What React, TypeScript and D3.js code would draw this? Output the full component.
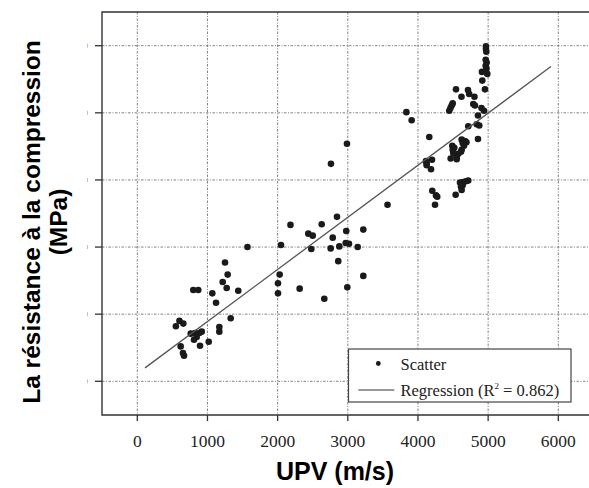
import React from "react";
import * as d3 from "d3";

// UPV (m/s) values of the scatter points
const upv: number[] = [
  550, 601, 656, 618, 651, 666, 761, 822, 846, 884, 918, 808, 894, 1018, 798, 869, 1069, 1122, 1169, 1169,
  1217, 1250, 1288, 1274, 1331, 1439, 1570,
  2048, 2029, 2005, 2005, 2183, 2314, 2437, 2500, 2480, 2628, 2665, 2760, 2756, 2785, 2846, 2864, 2879, 2978,
  2970, 3017, 2988, 2993, 3141, 3221, 3221, 3566,
  3835, 3910, 4161, 4114, 4124, 4200, 4124, 4186, 4204, 4257, 4275, 4243,
  4446, 4463, 4480, 4495, 4542, 4620, 4713, 4730, 4805, 4788, 4812, 4905, 4941, 4855, 4717, 4837, 4874, 4855,
  4623, 4670, 4637, 4691, 4489, 4518, 4495, 4656, 4623, 4613, 4575, 4552, 4503, 4466, 4552,
  4599, 4646, 4684, 4717, 4613, 4637, 4623, 4537,
  4969, 4969, 4974, 4965, 4979, 4965, 4977, 4912, 4988, 4917, 4955,
];

// Compressive strength (MPa) values of the scatter points
const strength: number[] = [
  18.2, 19.0, 18.6, 15.2, 14.2, 13.8, 17.1, 17.2, 16.6, 17.2, 17.4, 16.2, 15.3, 15.9, 23.6, 23.6, 23.1, 21.7, 18.1, 17.4,
  24.8, 27.7, 25.9, 23.9, 19.4, 23.5, 30.0,
  30.3, 25.9, 24.6, 23.1, 33.3, 23.8, 32.0, 31.7, 29.7, 33.4, 22.3, 42.4, 29.8, 31.4, 34.5, 27.9, 30.1, 32.4,
  30.6, 30.5, 45.4, 24.0, 30.0, 32.6, 25.7, 36.3,
  50.1, 48.9, 46.4, 42.8, 42.5, 43.0, 42.2, 41.6, 38.4, 37.7, 37.5, 36.3,
  50.3, 50.7, 51.1, 51.4, 53.5, 52.4, 53.4, 52.8, 52.4, 51.3, 51.1, 50.7, 50.3, 49.6, 48.0, 48.3, 48.1, 46.1,
  46.0, 45.8, 45.5, 45.6, 45.1, 44.8, 44.5, 45.1, 44.5, 44.2, 43.9, 43.5, 44.0, 43.2, 43.1,
  39.6, 39.7, 39.8, 39.9, 39.0, 39.2, 38.5, 37.8,
  59.9, 59.5, 59.1, 57.9, 57.5, 57.0, 56.6, 56.1, 55.8, 54.8, 53.5,
];

// Regression line end points [UPV, MPa]
const regressionStart: [number, number] = [110, 12.0];
const regressionEnd: [number, number] = [5895, 56.9];

const xTicks: number[] = [0, 1000, 2000, 3000, 4000, 5000, 6000];
const yTicks: number[] = [10, 20, 30, 40, 50, 60];

const legendScatter = "Scatter";
const legendRegression = "Regression (R";
const legendR2 = " = 0.862)";
const xTitle = "UPV (m/s)";
const yTitle1 = "La résistance à la compression";
const yTitle2 = "(MPa)";

export default function App() {
  const W = 589;
  const H = 488;
  const left = 102;
  const top = 12;
  const bottom = 415;
  const right = 592;

  const x = d3.scaleLinear().domain([0, 6000]).range([137.3, 558.3]);
  const y = d3.scaleLinear().domain([10, 60]).range([381.3, 45.7]);

  const gridStyle = {
    stroke: "#808080",
    strokeWidth: 1,
    strokeDasharray: "2.5,1.5,1,1.5",
  };

  const regLine = d3.line<[number, number]>()
    .x((d) => x(d[0]))
    .y((d) => y(d[1]))([regressionStart, regressionEnd]);

  const serif = "'Liberation Serif', 'Times New Roman', serif";
  const sans = "'Liberation Sans', Arial, sans-serif";

  const lgX = 348.5;
  const lgY = 349;
  const lgW = 222.5;
  const lgH = 53;

  return (
    <svg
      width={W}
      height={H}
      style={{ position: "absolute", left: 0, top: 0, background: "#fff" }}
    >
      <rect x={0} y={0} width={W} height={H} fill="#fff" />
      {/* grid */}
      {xTicks.map((t) => (
        <line key={"gx" + t} x1={x(t)} x2={x(t)} y1={top} y2={bottom} {...gridStyle} />
      ))}
      {yTicks.map((t) => (
        <line key={"gy" + t} x1={left} x2={right} y1={y(t)} y2={y(t)} {...gridStyle} />
      ))}
      {/* frame */}
      <path
        d={`M${right},${top} H${left} V${bottom} H${right}`}
        fill="none"
        stroke="#333"
        strokeWidth={1.4}
      />
      {/* ticks */}
      {xTicks.map((t) => (
        <line key={"tx" + t} x1={x(t)} x2={x(t)} y1={bottom} y2={bottom + 6} stroke="#333" strokeWidth={1.3} />
      ))}
      {yTicks.map((t) => (
        <line key={"ty" + t} x1={left - 7} x2={left} y1={y(t)} y2={y(t)} stroke="#333" strokeWidth={1.3} />
      ))}
      {yTicks.map((t) => (
        <rect key={"bm" + t} x={87} y={y(t) - 2} width={1} height={4} fill="#9cc9ec" />
      ))}
      {/* x tick labels */}
      {xTicks.map((t) => (
        <text
          key={"lx" + t}
          x={x(t)}
          y={446.5}
          textAnchor="middle"
          fontFamily={serif}
          fontSize={17.5}
          fill="#222"
        >
          {t}
        </text>
      ))}
      {/* scatter */}
      {upv.map((v, i) => (
        <circle key={"p" + i} cx={x(v)} cy={y(strength[i])} r={3.3} fill="#1a1a1a" />
      ))}
      {/* regression */}
      <path d={regLine ?? ""} fill="none" stroke="#555" strokeWidth={1.3} />
      {/* legend */}
      <rect x={lgX} y={lgY} width={lgW} height={lgH} fill="#fff" stroke="#444" strokeWidth={1.2} />
      <circle cx={378.3} cy={363.5} r={2.4} fill="#1a1a1a" />
      <line x1={358.3} x2={394.3} y1={390} y2={390} stroke="#333" strokeWidth={1} />
      <text x={400.5} y={370} fontFamily={serif} fontSize={16.5} fill="#222">
        {legendScatter}
      </text>
      <text x={400.5} y={396} fontFamily={serif} fontSize={16.5} fill="#222">
        {legendRegression}
        <tspan fontSize={9} dy={-7}>2</tspan>
        <tspan dy={7}>{legendR2}</tspan>
      </text>
      {/* axis titles */}
      <text
        x={335}
        y={480}
        textAnchor="middle"
        fontFamily={sans}
        fontWeight="bold"
        fontSize={25}
        fill="#000"
      >
        {xTitle}
      </text>
      <text
        transform="translate(40,222) rotate(-90)"
        textAnchor="middle"
        fontFamily={sans}
        fontWeight="bold"
        fontSize={24.5}
        fill="#000"
      >
        {yTitle1}
      </text>
      <text
        transform="translate(67,222) rotate(-90)"
        textAnchor="middle"
        fontFamily={sans}
        fontWeight="bold"
        fontSize={24.5}
        fill="#000"
      >
        {yTitle2}
      </text>
    </svg>
  );
}
